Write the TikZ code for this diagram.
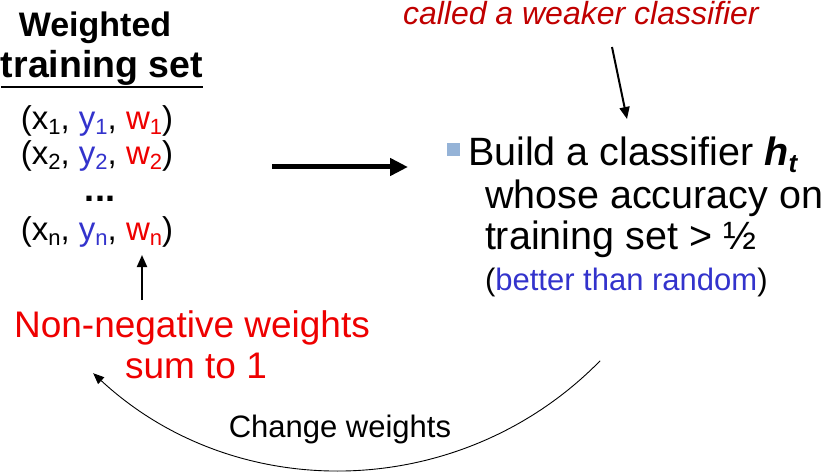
\documentclass[tikz,border=0pt]{standalone}
\usepackage{fontspec}
\setmainfont{Liberation Sans}
\usetikzlibrary{arrows.meta}
\definecolor{tred}{RGB}{238,0,0}
\definecolor{tblue}{RGB}{51,51,204}
\definecolor{dred}{RGB}{192,0,0}
\definecolor{bulletblue}{RGB}{149,179,215}
\newcommand\myfs[1]{\fontsize{#1}{#1}\selectfont}
\newcommand\mysub[1]{{\myfs{22}\raisebox{-5pt}{#1}}}
\begin{document}
\begin{tikzpicture}[x=1pt,y=1pt,
  txt/.style={inner sep=0pt, outer sep=0pt, anchor=base},
  bigarrow/.style={line width=5pt, -{Triangle[length=18pt,width=17pt]}},
  midarrow/.style={line width=2pt, -{Triangle[length=12pt,width=10pt]}},
  arcarrow/.style={line width=0.9pt, -{Triangle[length=11pt,width=9pt]}}]
\useasboundingbox (0,0) rectangle (827,472);
% left block
\node[txt] (wt) at (95,435) {\myfs{34}\bfseries Weighted};
\node[txt] (ts) at (102,394) {\myfs{37.5}\bfseries training set};
\draw[line width=2.5pt] ([yshift=-9pt]ts.base west) -- ([yshift=-9pt]ts.base east);
\node[txt] (t1) at (97,342) {\myfs{33}(x\mysub{1}, \textcolor{tblue}{y\mysub{1}}, \textcolor{tred}{w\mysub{1}})};
\node[txt] (t2) at (97,307) {\myfs{33}(x\mysub{2}, \textcolor{tblue}{y\mysub{2}}, \textcolor{tred}{w\mysub{2}})};
\node[txt] (dots) at (100,271) {\myfs{36}\bfseries ...};
\node[txt] (tn) at (97,232) {\myfs{33}(x\mysub{n}, \textcolor{tblue}{y\mysub{n}}, \textcolor{tred}{w\mysub{n}})};
% weights note
\node[txt, text=tred] (nn) at (192,135) {\myfs{37}Non-negative weights};
\node[txt, text=tred] (s1) at (196,94) {\myfs{37}sum to 1};
\coordinate (wfoot) at (142,172);
\coordinate (wtip) at (142,217);
\draw[midarrow] (wfoot) -- (wtip);
% big arrow
\coordinate (bA) at (272,305);
\coordinate (bB) at (408,305);
\draw[bigarrow] (bA) -- (bB);
% right block
\node[txt, anchor=base west, text=dred] (called) at (403,447) {\myfs{32}\itshape called a weaker classifier};
\coordinate (cA) at (612,425);
\coordinate (cB) at (627,353);
\draw[midarrow] (cA) -- (cB);
\node[fill=bulletblue, minimum size=13pt, inner sep=0pt] (bul) at (453,322) {};
\node[txt, anchor=base west] (l1) at (468,306) {\myfs{39.5}Build a classifier {\bfseries\itshape h}{\myfs{26}\bfseries\itshape\raisebox{-7pt}{t}}};
\node[txt, anchor=base west] (l2) at (485,264) {\myfs{39.5}whose accuracy on};
\node[txt, anchor=base west] (l3) at (485,223) {\myfs{39.5}training set > ½};
\node[txt, anchor=base west] (l4) at (485,182) {\myfs{31}(\textcolor{tblue}{better than random})};
% loop back
\node[txt] (cw) at (340,35) {\myfs{31}Change weights};
\coordinate (arcS) at (600.1,111.2);
\draw[arcarrow] (arcS) arc[start angle=-44.4, end angle=-132.8, radius=363.7];
\end{tikzpicture}
\end{document}
